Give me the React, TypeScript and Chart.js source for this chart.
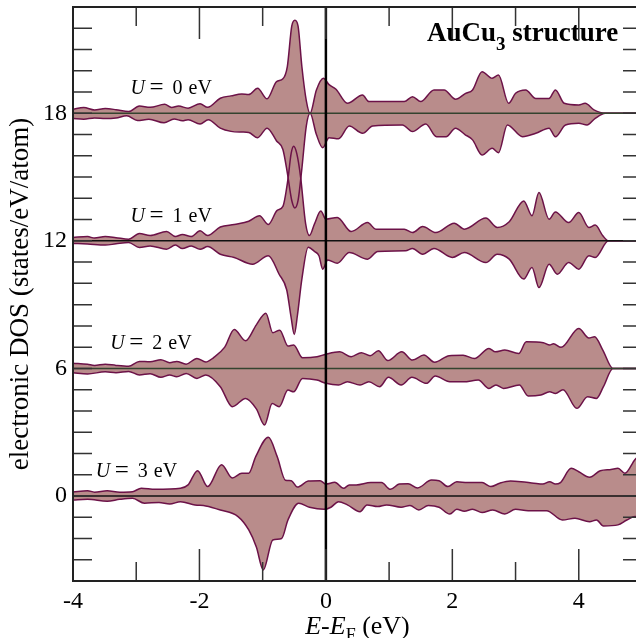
import { useEffect, useRef } from 'react';
import { Chart, registerables } from 'chart.js';
Chart.register(...registerables);

const FONT = "'Liberation Serif', 'Times New Roman', serif";

// vertical offsets of each DOS panel (states/eV/atom)
const offsets = [18, 12, 6, 0];
const uValues = ['0', '1', '2', '3'];
const uLabelX = [-3.09, -3.09, -3.41, -3.64];
const xLabeled = [-4, -2, 0, 2, 4];
const yLabeled = [0, 6, 12, 18];
const baselineColors = ['#34432f', '#111111', '#34432f', '#111111'];

// [energy (eV), DOS] – spin up (drawn upward) and spin down (drawn downward)
const u0Up: [number, number][] = [
  [-4, 0.19], [-3.83, 0.27], [-3.66, 0.16], [-3.49, 0.22], [-3.32, 0.17], [-3.12, 0.08], [-2.95, 0.34], [-2.78, 0.28],
  [-2.55, 0.42], [-2.44, 0.27], [-2.33, 0.34], [-2.18, 0.24], [-1.99, 0.45], [-1.87, 0.28], [-1.67, 0.71], [-1.5, 0.82],
  [-1.33, 0.91], [-1.22, 0.88], [-1.08, 1.18], [-0.93, 0.68], [-0.78, 1.49], [-0.68, 1.62], [-0.61, 2.2], [-0.54, 4.1],
  [-0.49, 4.38], [-0.44, 4.1], [-0.38, 2.2], [-0.31, 0.6], [-0.25, 0], [-0.15, 1.1], [-0.04, 1.65], [0.05, 1.35],
  [0.16, 1.13], [0.34, 0.47], [0.58, 0.86], [0.68, 0.55], [0.88, 0.55], [1.24, 0.55], [1.37, 0.78], [1.5, 0.55],
  [1.71, 1.1], [1.87, 1.1], [2.05, 0.66], [2.21, 0.94], [2.32, 1.1], [2.47, 1.96], [2.63, 1.65], [2.73, 1.8],
  [2.89, 0.47], [3.0, 0.94], [3.16, 1.1], [3.32, 0.7], [3.53, 0.7], [3.63, 1.1], [3.77, 0.47], [4.0, 0.39],
  [4.1, 0.47], [4.24, 0.16], [4.42, 0], [5, 0],
];
const u0Down: [number, number][] = [
  [-4, 0.25], [-3.83, 0.28], [-3.66, 0.22], [-3.49, 0.25], [-3.32, 0.22], [-3.15, 0.12], [-2.98, 0.34], [-2.8, 0.28],
  [-2.56, 0.45], [-2.4, 0.27], [-2.27, 0.35], [-2.18, 0.3], [-1.99, 0.5], [-1.86, 0.3], [-1.67, 0.7], [-1.5, 0.85],
  [-1.33, 0.88], [-1.22, 0.9], [-1.08, 1.15], [-0.93, 0.7], [-0.78, 1.3], [-0.68, 1.7], [-0.61, 2.8], [-0.54, 4.1],
  [-0.49, 4.45], [-0.44, 4.1], [-0.38, 2.6], [-0.31, 0.6], [-0.25, 0], [-0.15, 1.0], [-0.05, 1.62], [0.05, 1.15],
  [0.2, 1.2], [0.37, 0.6], [0.58, 0.94], [0.74, 0.6], [1.21, 0.55], [1.37, 0.86], [1.58, 0.5], [1.75, 1.1],
  [1.9, 1.1], [2.05, 0.7], [2.2, 1.0], [2.32, 1.25], [2.47, 1.96], [2.63, 1.65], [2.73, 1.85], [2.87, 0.55],
  [3.11, 1.1], [3.32, 0.94], [3.53, 0.7], [3.63, 1.1], [3.79, 0.55], [4.0, 0.47], [4.13, 0.55], [4.26, 0.24],
  [4.42, 0], [5, 0],
];
const u1Up: [number, number][] = [
  [-4, 0.16], [-3.77, 0.2], [-3.66, 0.13], [-3.49, 0.2], [-3.32, 0.15], [-3.12, 0.08], [-2.95, 0.34], [-2.78, 0.25],
  [-2.52, 0.44], [-2.38, 0.2], [-2.27, 0.3], [-2.13, 0.2], [-1.99, 0.47], [-1.87, 0.25], [-1.67, 0.65], [-1.45, 0.77],
  [-1.22, 0.92], [-1.05, 1.18], [-0.91, 0.77], [-0.77, 1.43], [-0.68, 1.62], [-0.6, 2.9], [-0.55, 4.1], [-0.51, 4.45],
  [-0.46, 4.1], [-0.4, 3.0], [-0.32, 0.8], [-0.26, 0.25], [-0.18, 0.8], [-0.08, 1.4], [0.0, 1.02], [0.18, 1.1],
  [0.4, 0.44], [0.66, 0.86], [0.79, 0.55], [1.24, 0.55], [1.37, 0.39], [1.53, 0.67], [1.74, 0.39], [2.03, 0.83],
  [2.19, 0.55], [2.53, 1.07], [2.71, 0.63], [2.9, 0.9], [3.13, 1.88], [3.26, 1.18], [3.37, 2.27], [3.53, 1.02],
  [3.63, 1.36], [3.84, 0.86], [4.0, 1.33], [4.16, 0.63], [4.26, 0.74], [4.38, 0.24], [4.47, 0], [5, 0],
];
const u1Down: [number, number][] = [
  [-4, 0.12], [-3.77, 0.15], [-3.49, 0.2], [-3.32, 0.14], [-3.12, 0.08], [-2.95, 0.31], [-2.78, 0.24], [-2.52, 0.39],
  [-2.38, 0.2], [-2.27, 0.36], [-2.13, 0.24], [-1.99, 0.4], [-1.87, 0.27], [-1.67, 0.63], [-1.45, 0.78], [-1.16, 1.1],
  [-0.91, 0.7], [-0.74, 1.57], [-0.62, 2.3], [-0.55, 3.6], [-0.5, 4.4], [-0.45, 3.5], [-0.38, 1.8], [-0.28, 0.3],
  [-0.18, 0.5], [-0.11, 0.7], [-0.05, 1.33], [0.03, 0.9], [0.18, 1.05], [0.37, 0.55], [0.66, 0.86], [0.82, 0.5],
  [1.26, 0.47], [1.37, 0.36], [1.53, 0.63], [1.71, 0.36], [2.0, 0.78], [2.19, 0.55], [2.53, 1.02], [2.71, 0.63],
  [2.9, 0.86], [3.13, 1.8], [3.26, 1.25], [3.37, 2.2], [3.53, 1.1], [3.66, 1.57], [3.84, 1.02], [4.0, 1.33],
  [4.16, 0.7], [4.26, 0.78], [4.47, 0], [5, 0],
];
const u2Up: [number, number][] = [
  [-4, 0.24], [-3.77, 0.19], [-3.66, 0.14], [-3.49, 0.2], [-3.32, 0.14], [-3.12, 0.1], [-2.95, 0.33], [-2.78, 0.31],
  [-2.61, 0.41], [-2.47, 0.27], [-2.36, 0.33], [-2.21, 0.2], [-2.04, 0.47], [-1.9, 0.3], [-1.78, 0.5], [-1.6, 1.0],
  [-1.45, 1.83], [-1.27, 1.3], [-1.1, 2.05], [-0.95, 2.6], [-0.84, 1.68], [-0.73, 1.8], [-0.6, 1.05], [-0.51, 1.1],
  [-0.37, 0.5], [-0.14, 0.55], [0.0, 0.67], [0.22, 0.78], [0.4, 0.55], [0.56, 0.74], [0.7, 0.6], [0.83, 0.83],
  [0.98, 0.37], [1.2, 0.78], [1.37, 0.39], [1.55, 0.63], [1.72, 0.29], [1.95, 0.6], [2.17, 0.62], [2.35, 0.47],
  [2.58, 0.94], [2.68, 0.78], [2.83, 0.86], [3.05, 0.7], [3.17, 1.25], [3.44, 1.21], [3.54, 1.1], [3.6, 1.16],
  [3.72, 0.99], [4.0, 1.88], [4.16, 1.43], [4.25, 1.49], [4.38, 0.86], [4.54, 0], [5, 0],
];
const u2Down: [number, number][] = [
  [-4, 0.2], [-3.77, 0.26], [-3.49, 0.16], [-3.32, 0.2], [-3.12, 0.14], [-2.95, 0.31], [-2.78, 0.25], [-2.61, 0.42],
  [-2.47, 0.31], [-2.36, 0.39], [-2.21, 0.24], [-2.04, 0.47], [-1.9, 0.31], [-1.67, 0.86], [-1.48, 1.8], [-1.27, 1.41],
  [-1.1, 1.9], [-0.97, 2.66], [-0.85, 1.65], [-0.74, 1.8], [-0.6, 1.02], [-0.51, 1.1], [-0.37, 0.47], [-0.14, 0.55],
  [0.0, 0.7], [0.2, 0.78], [0.34, 0.63], [0.54, 0.78], [0.68, 0.63], [0.85, 0.86], [0.99, 0.42], [1.19, 0.78],
  [1.36, 0.42], [1.59, 0.7], [1.73, 0.36], [1.96, 0.63], [2.18, 0.63], [2.41, 0.55], [2.58, 0.94], [2.69, 0.78],
  [2.81, 0.94], [3.06, 0.78], [3.2, 1.3], [3.4, 1.25], [3.54, 1.1], [3.63, 1.18], [3.75, 1.0], [3.97, 1.88],
  [4.14, 1.33], [4.28, 1.41], [4.39, 0.86], [4.54, 0], [5, 0],
];
const u3Up: [number, number][] = [
  [-4, 0.19], [-3.77, 0.25], [-3.66, 0.18], [-3.46, 0.25], [-3.26, 0.18], [-3.06, 0.2], [-2.92, 0.36], [-2.7, 0.31],
  [-2.3, 0.36], [-2.18, 0.52], [-2.03, 1.19], [-1.87, 0.44], [-1.65, 1.47], [-1.48, 0.85], [-1.33, 1.07], [-1.22, 1.07],
  [-1.11, 1.85], [-0.91, 2.76], [-0.77, 1.85], [-0.64, 0.74], [-0.55, 0.72], [-0.45, 0.42], [-0.28, 0.7], [-0.09, 0.72],
  [0.0, 0.56], [0.14, 0.64], [0.28, 0.36], [0.37, 0.52], [0.48, 0.52], [0.71, 0.63], [0.88, 0.63], [1.02, 0.31],
  [1.16, 0.56], [1.3, 0.58], [1.45, 0.38], [1.67, 0.75], [1.79, 0.72], [1.93, 0.44], [2.07, 0.67], [2.24, 0.63],
  [2.47, 0.63], [2.61, 0.44], [2.75, 0.6], [2.92, 0.7], [3.09, 0.67], [3.29, 0.6], [3.43, 0.56], [3.54, 0.67],
  [3.63, 0.56], [3.71, 0.63], [3.88, 1.3], [4.0, 1.14], [4.17, 0.88], [4.34, 1.19], [4.51, 1.25], [4.62, 1.3],
  [4.73, 1.07], [4.89, 1.72], [5, 2.0],
];
const u3Down: [number, number][] = [
  [-4, 0.19], [-3.77, 0.16], [-3.46, 0.25], [-3.26, 0.16], [-3.06, 0.11], [-2.87, 0.34], [-2.64, 0.31], [-2.47, 0.38],
  [-2.3, 0.27], [-2.07, 0.42], [-1.9, 0.47], [-1.67, 0.66], [-1.39, 0.97], [-1.22, 1.6], [-1.1, 2.4], [-0.99, 3.48],
  [-0.84, 2.07], [-0.7, 2.0], [-0.6, 1.13], [-0.43, 0.34], [-0.26, 0.53], [-0.03, 0.63], [0.08, 0.53], [0.2, 0.27],
  [0.34, 0.42], [0.54, 0.74], [0.65, 0.42], [0.82, 0.5], [0.96, 0.42], [1.19, 0.53], [1.33, 0.45], [1.47, 0.66],
  [1.62, 0.45], [1.79, 0.53], [1.96, 0.85], [2.07, 0.63], [2.19, 0.72], [2.32, 0.63], [2.47, 0.78], [2.64, 0.66],
  [2.83, 0.85], [3.0, 0.63], [3.2, 0.69], [3.49, 0.69], [3.74, 1.13], [3.94, 1.05], [4.17, 1.21], [4.28, 1.13],
  [4.39, 1.41], [4.62, 1.36], [4.76, 1.13], [4.89, 0.97], [5, 1.0],
];

const upSeries = [u0Up, u1Up, u2Up, u3Up];
const downSeries = [u0Down, u1Down, u2Down, u3Down];

const FILL = 'rgb(185,140,139)';
const LINE = 'rgb(108,18,72)';

const overlay = {
  id: 'overlay',
  afterDatasetsDraw(chart: any) {
    const { ctx, chartArea: a, scales } = chart;
    const xs = scales.x;
    const ys = scales.y;
    ctx.save();
    ctx.beginPath();
    ctx.rect(a.left, a.top, a.right - a.left, a.bottom - a.top);
    ctx.clip();
    offsets.forEach((o, i) => {
      const y = ys.getPixelForValue(o);
      ctx.strokeStyle = baselineColors[i];
      ctx.lineWidth = 1.5;
      ctx.beginPath();
      ctx.moveTo(a.left, y);
      ctx.lineTo(a.right, y);
      ctx.stroke();
    });
    const x0 = xs.getPixelForValue(0);
    ctx.strokeStyle = '#000';
    ctx.lineWidth = 2.5;
    ctx.beginPath();
    ctx.moveTo(x0, a.top);
    ctx.lineTo(x0, a.bottom);
    ctx.stroke();
    ctx.restore();

    ctx.save();
    ctx.fillStyle = '#000';
    ctx.textBaseline = 'alphabetic';
    ctx.textAlign = 'left';
    // title
    let tx = 427;
    ctx.font = `bold 27px ${FONT}`;
    ctx.fillText('AuCu', tx, 41);
    tx += ctx.measureText('AuCu').width;
    ctx.font = `bold 19px ${FONT}`;
    ctx.fillText('3', tx, 50);
    tx += ctx.measureText('3').width;
    ctx.font = `bold 27px ${FONT}`;
    ctx.fillText(' structure', tx, 41);

    // U labels
    offsets.forEach((o, i) => {
      const lx = xs.getPixelForValue(uLabelX[i]);
      const ly = ys.getPixelForValue(o) - 19;
      ctx.font = `italic 20px ${FONT}`;
      ctx.fillText('U', lx, ly);
      ctx.font = `25px ${FONT}`;
      ctx.fillText('=', lx + 19, ly + 1);
      ctx.font = `20px ${FONT}`;
      ctx.fillText(uValues[i], lx + 42, ly);
      ctx.fillText('eV', lx + 58, ly);
    });

    // ticks (inward, drawn over data)
    ctx.strokeStyle = '#333';
    ctx.lineWidth = 1.5;
    ctx.beginPath();
    for (let v = -4; v <= 5; v++) {
      const px = xs.getPixelForValue(v);
      const len = v % 2 === 0 ? 32 : 19;
      ctx.moveTo(px, a.bottom);
      ctx.lineTo(px, a.bottom - len);
      ctx.moveTo(px, a.top);
      ctx.lineTo(px, a.top + len);
    }
    for (let v = -4; v <= 23; v++) {
      const py = ys.getPixelForValue(v);
      ctx.moveTo(a.left, py);
      ctx.lineTo(a.left + 19, py);
      ctx.moveTo(a.right, py);
      ctx.lineTo(a.right - 19, py);
    }
    ctx.stroke();
    ctx.strokeStyle = '#222';
    ctx.lineWidth = 2;
    ctx.strokeRect(a.left, a.top, a.right - a.left, a.bottom - a.top);

    // x title
    const cx = (a.left + a.right) / 2;
    const by = 634;
    const parts: [string, string, number][] = [
      ['E', `italic 26px ${FONT}`, 0],
      ['-', `26px ${FONT}`, 0],
      ['E', `italic 26px ${FONT}`, 0],
      ['F', `18px ${FONT}`, 7],
      [' (eV)', `26px ${FONT}`, 0],
    ];
    let total = 0;
    parts.forEach(([t, f]) => { ctx.font = f; total += ctx.measureText(t).width; });
    let px = cx - total / 2;
    parts.forEach(([t, f, dy]) => {
      ctx.font = f;
      ctx.fillText(t, px, by + dy);
      px += ctx.measureText(t).width;
    });

    // y title
    ctx.save();
    ctx.translate(21, (a.top + a.bottom) / 2);
    ctx.rotate(-Math.PI / 2);
    ctx.textAlign = 'center';
    ctx.textBaseline = 'middle';
    ctx.font = `27px ${FONT}`;
    ctx.fillText('electronic DOS (states/eV/atom)', 0, 0);
    ctx.restore();
    ctx.restore();
  },
};

export default function App() {
  const ref = useRef<HTMLCanvasElement | null>(null);
  useEffect(() => {
    document.documentElement.style.overflow = 'hidden';
    document.body.style.overflow = 'hidden';
    const canvas = ref.current;
    if (!canvas) return;
    const datasets: any[] = [];
    offsets.forEach((o, i) => {
      datasets.push({
        data: upSeries[i].map(([x, v]) => ({ x, y: o + v })),
        fill: { value: o },
        backgroundColor: FILL,
        borderColor: LINE,
        borderWidth: 1.5,
        pointRadius: 0,
        cubicInterpolationMode: 'monotone',
      });
      datasets.push({
        data: downSeries[i].map(([x, v]) => ({ x, y: o - v })),
        fill: { value: o },
        backgroundColor: FILL,
        borderColor: LINE,
        borderWidth: 1.5,
        pointRadius: 0,
        cubicInterpolationMode: 'monotone',
      });
    });
    const chart = new Chart(canvas, {
      type: 'line',
      data: { datasets },
      options: {
        responsive: false,
        animation: false,
        layout: { padding: { top: 7, right: 18, left: 0, bottom: 0 } },
        plugins: {
          legend: { display: false },
          tooltip: { enabled: false },
          filler: { drawTime: 'beforeDatasetsDraw' },
        } as any,
        scales: {
          x: {
            type: 'linear',
            min: -4,
            max: 5,
            grid: { display: false, drawTicks: false },
            border: { display: false },
            ticks: {
              stepSize: 1,
              autoSkip: false,
              maxRotation: 0,
              padding: 6,
              color: '#000',
              font: { family: FONT, size: 24 },
              callback: (v: any) => (xLabeled.includes(Number(v)) ? String(v) : ''),
            },
            afterFit: (s: any) => { s.height = 57; s.paddingLeft = 0; s.paddingRight = 0; },
          },
          y: {
            type: 'linear',
            min: -4,
            max: 23,
            grid: { display: false, drawTicks: false },
            border: { display: false },
            ticks: {
              stepSize: 1,
              autoSkip: false,
              padding: 6,
              color: '#000',
              font: { family: FONT, size: 24 },
              callback: (v: any) => (yLabeled.includes(Number(v)) ? String(v) : ''),
            },
            afterFit: (s: any) => { s.width = 73; s.paddingTop = 0; s.paddingBottom = 0; },
          },
        },
      } as any,
      plugins: [overlay],
    });
    return () => chart.destroy();
  }, []);
  return (
    <div style={{ position: 'fixed', left: 0, top: 0, width: 660, height: 638, background: '#fff' }}>
      <canvas ref={ref} width={660} height={638} style={{ display: 'block' }} />
    </div>
  );
}
